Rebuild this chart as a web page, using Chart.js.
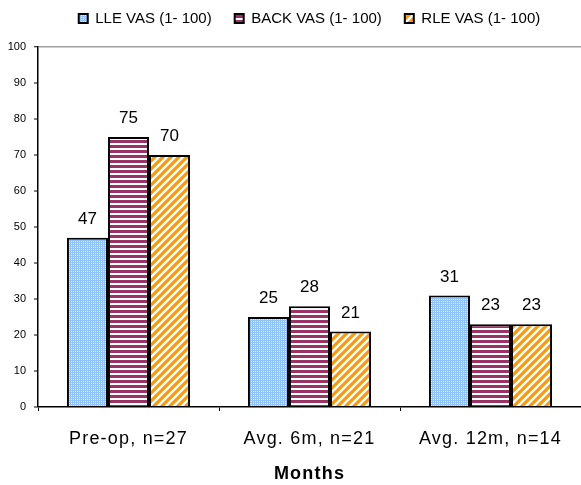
<!DOCTYPE html>
<html>
<head>
<meta charset="utf-8">
<script src="https://cdn.jsdelivr.net/npm/chart.js@4.4.1/dist/chart.umd.min.js"></script>
<style>
  html, body { margin: 0; padding: 0; background: #fff; }
  #wrap { width: 581px; height: 485px; }
</style>
</head>
<body>
<div id="wrap"><canvas id="c" width="581" height="485"></canvas></div>
<script>
// Pain scores (VAS, 1-100) by follow-up point
const categories = ['Pre-op, n=27', 'Avg. 6m, n=21', 'Avg. 12m, n=14'];
const lleVas  = [47, 25, 31];
const backVas = [75, 28, 23];
const rleVas  = [70, 21, 23];
const seriesNames = ['LLE VAS (1- 100)', 'BACK VAS (1- 100)', 'RLE VAS (1- 100)'];
const yTicks = [0, 10, 20, 30, 40, 50, 60, 70, 80, 90, 100];

const FONT = '"Liberation Sans", Arial, sans-serif';

// Fill patterns for the three series
function makeTile(w, h, paint) {
  const t = document.createElement('canvas');
  t.width = w; t.height = h;
  paint(t.getContext('2d'));
  return document.createElement('canvas').getContext('2d').createPattern(t, 'repeat');
}
const dotted = makeTile(4, 4, g => {
  g.fillStyle = '#8ec2ff'; g.fillRect(0, 0, 4, 4);
  g.fillStyle = '#e2f0ff';
  g.fillRect(1, 1, 1, 1); g.fillRect(3, 3, 1, 1);
  g.fillRect(1, 3, 1, 1); g.fillRect(3, 1, 1, 1);
});
const striped = makeTile(5, 5, g => {
  g.fillStyle = '#ffffff'; g.fillRect(0, 0, 5, 5);
  g.fillStyle = '#993366'; g.fillRect(0, 0, 5, 3);
});
const diagonal = makeTile(8, 8, g => {
  g.fillStyle = '#ffffff'; g.fillRect(0, 0, 8, 8);
  g.strokeStyle = '#ff9900'; g.lineWidth = 3.2;
  g.beginPath();
  g.moveTo(-2, 10); g.lineTo(10, -2);
  g.moveTo(-6, 6); g.lineTo(6, -6);
  g.moveTo(2, 14); g.lineTo(14, 2);
  g.stroke();
});

// Value labels above each bar; the category axis (z = 1) is drawn
// afterwards with slightly wider letter spacing.
const valueLabels = {
  id: 'valueLabels',
  afterDatasetsDraw(chart) {
    const ctx = chart.ctx;
    ctx.save();
    ctx.font = '17px ' + FONT;
    ctx.fillStyle = '#000';
    ctx.textAlign = 'center';
    ctx.textBaseline = 'bottom';
    chart.data.datasets.forEach((ds, i) => {
      chart.getDatasetMeta(i).data.forEach((bar, j) => {
        ctx.fillText(String(ds.data[j]), bar.x, bar.y - 10);
      });
    });
    ctx.restore();
    ctx.letterSpacing = '1.2px';
  },
  afterDraw(chart) {
    chart.ctx.letterSpacing = '0px';
  }
};

const common = { borderColor: '#000', borderWidth: 2, barPercentage: 1.0, categoryPercentage: 0.68 };

new Chart(document.getElementById('c'), {
  type: 'bar',
  data: {
    labels: categories,
    datasets: [
      Object.assign({ label: seriesNames[0], data: lleVas,  backgroundColor: dotted }, common),
      Object.assign({ label: seriesNames[1], data: backVas, backgroundColor: striped }, common),
      Object.assign({ label: seriesNames[2], data: rleVas,  backgroundColor: diagonal }, common)
    ]
  },
  options: {
    responsive: false,
    animation: false,
    devicePixelRatio: 1,
    layout: { padding: { top: -12, right: 0, bottom: 0, left: 0 } },
    plugins: {
      legend: {
        position: 'top',
        fullSize: false,
        labels: {
          boxWidth: 9, boxHeight: 9, padding: 23,
          color: '#000',
          font: { family: FONT, size: 15 }
        }
      },
      tooltip: { enabled: false }
    },
    scales: {
      x: {
        offset: true,
        grid: { z: 1, display: true, drawOnChartArea: false, offset: true, tickLength: 4, color: '#000', lineWidth: 1 },
        border: { z: 1, display: true, color: '#000', width: 1.5 },
        ticks: { z: 1, color: '#000', padding: 17, font: { family: FONT, size: 18 } },
        title: { display: true, text: 'Months', color: '#000', padding: { top: 4, bottom: 0 },
                 font: { family: FONT, size: 18, weight: 'bold' } },
        afterFit(s) { s.height = 78; }
      },
      // empty band between the legend and the plot area
      gap: {
        type: 'category', position: 'top', display: true,
        grid: { display: false }, border: { display: false }, ticks: { display: false },
        afterFit(s) { s.height = 11; }
      },
      y: {
        min: 0, max: 100,
        afterBuildTicks(s) { s.ticks = yTicks.map(v => ({ value: v })); },
        grid: {
          drawOnChartArea: true, tickLength: 4,
          color: c => (c.tick && c.tick.value === 100) ? '#a0a0a0' : 'rgba(0,0,0,0)',
          lineWidth: c => (c.tick && c.tick.value === 100) ? 1.5 : 0,
          tickColor: '#000', tickWidth: 1
        },
        border: { display: true, color: '#000', width: 1.5 },
        ticks: { color: '#000', padding: 8, font: { family: FONT, size: 11 } },
        afterFit(s) { s.width = 38; }
      }
    }
  },
  plugins: [valueLabels]
});
</script>
</body>
</html>
